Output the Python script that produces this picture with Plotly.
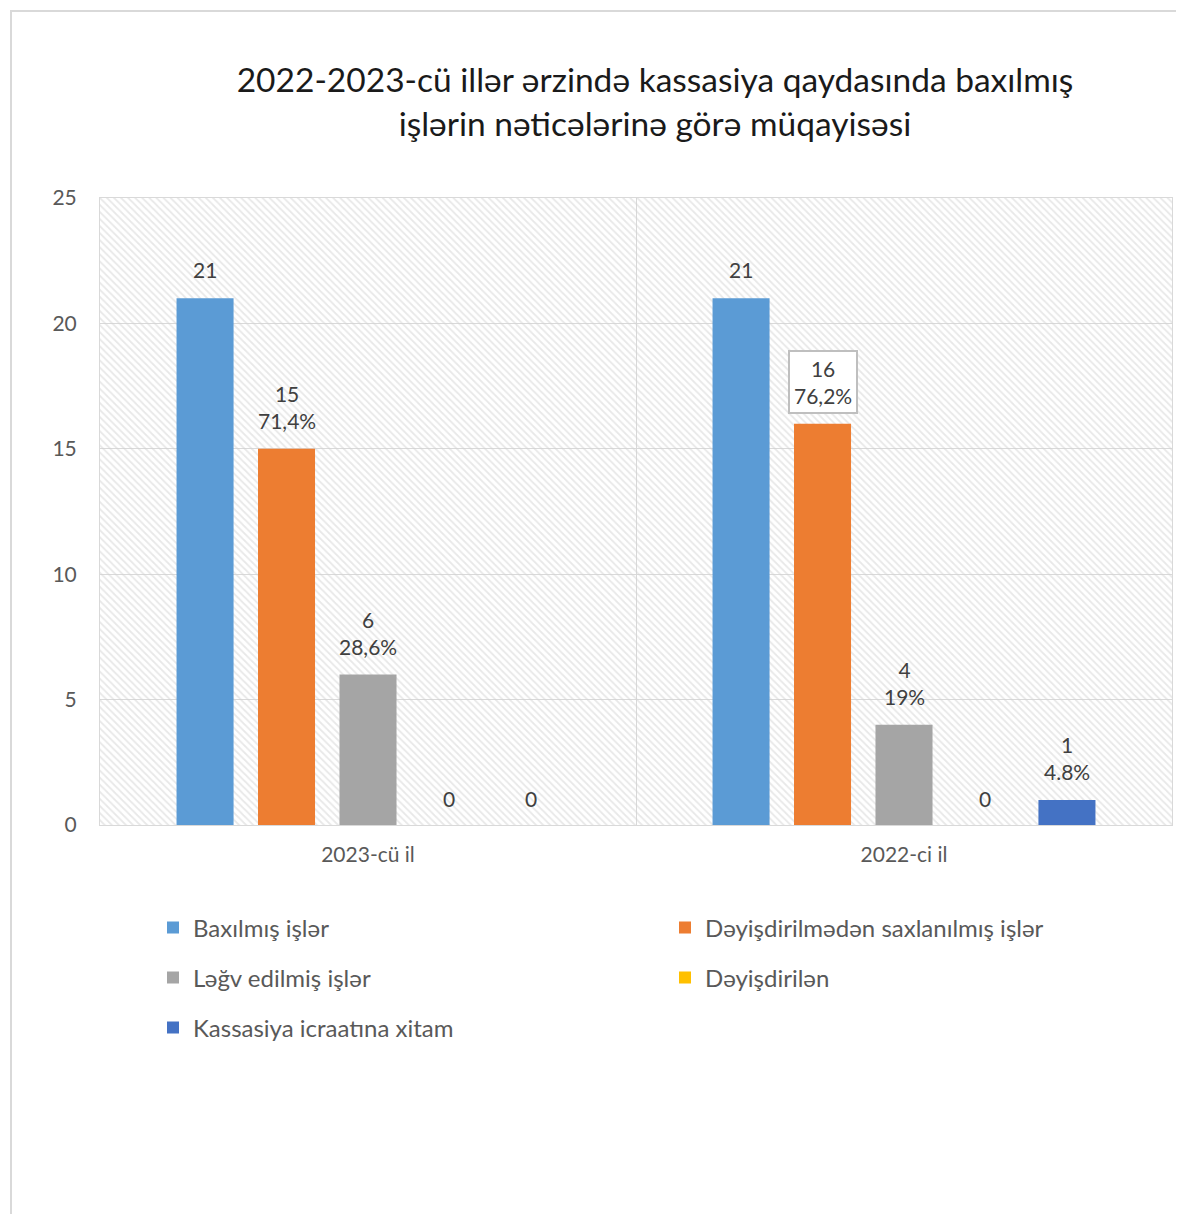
import plotly.graph_objects as go

categories = ["2023-cü il", "2022-ci il"]
series_names = [
    "Baxılmış işlər",
    "Dəyişdirilmədən saxlanılmış işlər",
    "Ləğv edilmiş işlər",
    "Dəyişdirilən",
    "Kassasiya icraatına xitam",
]
series_colors = ["#5B9BD5", "#ED7D31", "#A5A5A5", "#FFC000", "#4472C4"]

baxilmis = [21, 21]
deyisdirilmeden = [15, 16]
legv = [6, 4]
deyisdirilen = [0, 0]
xitam = [0, 1]

labels_baxilmis = ["21", "21"]
labels_deyisdirilmeden = ["15<br>71,4%", "16<br>76,2%"]
labels_legv = ["6<br>28,6%", "4<br>19%"]
labels_deyisdirilen = ["0", "0"]
labels_xitam = ["0", "1<br>4.8%"]
boxed = [(1, 1)]  # (series, category) of the framed label

title = "2022-2023-cü illər ərzində kassasiya qaydasında baxılmış<br>işlərin nəticələrinə görə müqayisəsi"
y_max = 25
bargap = 0.24
font = "Lato"

# the page body adds an 8px offset, so the figure is a bit smaller than the window
W, H = 1176, 1206
l, r, t, b = 92, 12, 190, 389
pw, ph = W - l - r, H - t - b


def px_x(px):
    return (px - l) / pw


def px_y(py):
    return (H - b - py) / ph


fig = go.Figure()

# hatched plot-area background on the base axis
fig.add_trace(go.Bar(
    x=[0.5], y=[y_max], width=[1], xaxis="x", yaxis="y",
    marker=dict(color="rgba(0,0,0,0)", line_width=0,
                pattern=dict(shape="\\", fgcolor="#d2d2d2", bgcolor="rgba(0,0,0,0)",
                             size=5, solidity=0.35)),
    hoverinfo="skip", showlegend=False,
))

all_vals = [baxilmis, deyisdirilmeden, legv, deyisdirilen, xitam]
all_labels = [labels_baxilmis, labels_deyisdirilmeden, labels_legv, labels_deyisdirilen, labels_xitam]
legend_rows = ["legend", "legend", "legend2", "legend2", "legend3"]

for name, col, vals, lg in zip(series_names, series_colors, all_vals, legend_rows):
    fig.add_trace(go.Bar(
        name=name, x=categories, y=vals, xaxis="x2", yaxis="y",
        marker=dict(color=col, line_width=0), legend=lg,
    ))

# data labels above each bar
n = len(series_names)
slot = (1 - bargap) / n
for si, (vals, labs) in enumerate(zip(all_vals, all_labels)):
    for ci, (v, txt) in enumerate(zip(vals, labs)):
        framed = (si, ci) in boxed
        fig.add_annotation(
            x=ci + (si - (n - 1) / 2) * slot, y=v, xref="x2", yref="y",
            text=txt, showarrow=False, yanchor="bottom",
            yshift=10 if framed else (13 if v == 0 else 15),
            font=dict(family=font, size=21, color="#404040"),
            bgcolor="white" if framed else None,
            bordercolor="#bfbfbf" if framed else None,
            borderwidth=2 if framed else 0, borderpad=4 if framed else 1,
        )

# chart outer border
fig.add_shape(type="rect", xref="paper", yref="paper",
              x0=px_x(3), x1=px_x(W + 10), y0=px_y(H + 10), y1=px_y(3),
              line=dict(color="#d9d9d9", width=2), fillcolor="rgba(0,0,0,0)", layer="below")

legend_common = dict(orientation="h", xref="container", yref="container",
                     x=145 / W, xanchor="left", yanchor="middle",
                     entrywidth=467, entrywidthmode="pixels",
                     font=dict(family=font, size=24, color="#595959"),
                     bgcolor="rgba(0,0,0,0)")

fig.update_layout(
    width=W, height=H,
    margin=dict(l=l, r=r, t=t, b=b),
    paper_bgcolor="white", plot_bgcolor="white",
    barmode="group", bargap=bargap, bargroupgap=0.3,
    title=dict(text=title, x=647 / W, xanchor="center", xref="container",
               y=1 - 84 / H, yanchor="middle", yref="container",
               font=dict(family=font, size=33.5, color="#1a1a1a")),
    xaxis=dict(range=[0, 1], tickvals=[0.5], showticklabels=False, showgrid=True,
               gridcolor="#d9d9d9", gridwidth=1, zeroline=False,
               showline=True, linecolor="#d9d9d9", mirror=True, ticks=""),
    xaxis2=dict(overlaying="x", anchor="y", side="bottom", type="category",
                showgrid=False, zeroline=False, showline=False, ticks="",
                ticklabelstandoff=15,
                tickfont=dict(family=font, size=21, color="#595959")),
    yaxis=dict(range=[0, y_max], dtick=5, showgrid=True, gridcolor="#d9d9d9",
               gridwidth=1, zeroline=False, showline=True, linecolor="#d9d9d9",
               mirror=True, ticks="", ticklabelstandoff=18,
               tickfont=dict(family=font, size=21, color="#595959")),
    legend=dict(legend_common, y=1 - 920 / H),
    legend2=dict(legend_common, y=1 - 970 / H),
    legend3=dict(legend_common, y=1 - 1020 / H),
)

fig.write_html("out.html")
